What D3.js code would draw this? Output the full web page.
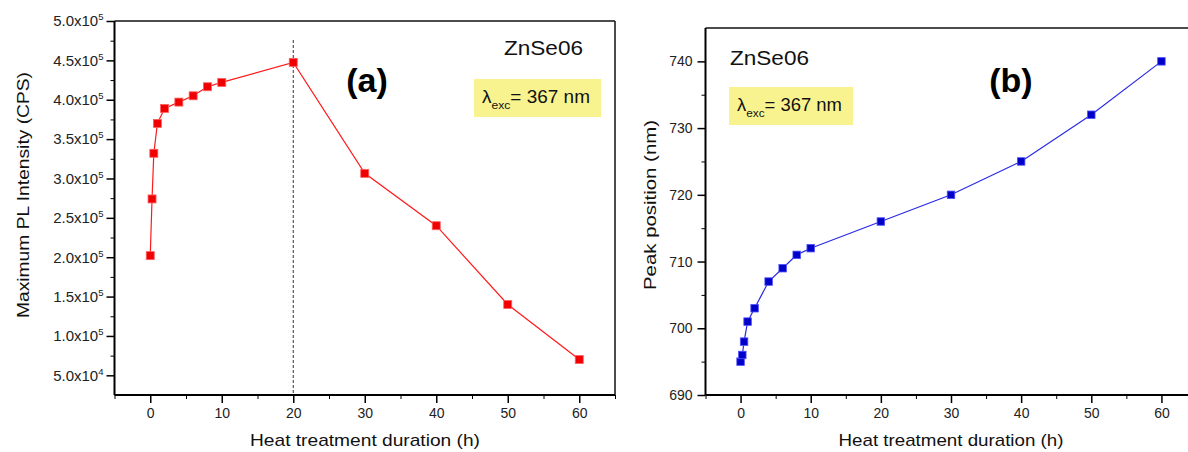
<!DOCTYPE html>
<html>
<head>
<meta charset="utf-8">
<script src="https://cdn.jsdelivr.net/npm/d3@7"></script>
<style>
  html, body { margin: 0; padding: 0; background: #fff; }
  svg { display: block; font-family: "Liberation Sans", Arial, sans-serif; }
</style>
</head>
<body>
<svg id="chart" width="1188" height="452"></svg>
<script>
// ---- data ----
const durations = [0, 0.25, 0.5, 1, 2, 4, 6, 8, 10, 20, 30, 40, 50, 60];
const maxIntensity = [2.02e5, 2.74e5, 3.32e5, 3.70e5, 3.89e5, 3.97e5, 4.05e5, 4.165e5, 4.22e5, 4.475e5, 3.065e5, 2.40e5, 1.40e5, 7.0e4];
const peakPosition = [695, 696, 698, 701, 703, 707, 709, 711, 712, 716, 720, 725, 732, 740];
const xTicks = [0, 10, 20, 30, 40, 50, 60];
const xMinorTicks = [-5, 5, 15, 25, 35, 45, 55, 65];
const yTicksA = [5e4, 1e5, 1.5e5, 2e5, 2.5e5, 3e5, 3.5e5, 4e5, 4.5e5, 5e5];
const yMinorTicksA = [7.5e4, 1.25e5, 1.75e5, 2.25e5, 2.75e5, 3.25e5, 3.75e5, 4.25e5, 4.75e5];
const yTicksB = [690, 700, 710, 720, 730, 740];
const yMinorTicksB = [695, 705, 715, 725, 735];
const markerLine = 20;

const svg = d3.select("#chart");
const FONT = "'Liberation Sans', Arial, sans-serif";

function drawPanel(cfg) {
  const g = svg.append("g");
  const x = d3.scaleLinear().domain([-5, 65]).range([cfg.left, cfg.right]);
  const y = d3.scaleLinear().domain(cfg.yDomain).range([cfg.bottom, cfg.top]);

  // frame top/right
  g.append("line").attr("x1", cfg.left).attr("x2", cfg.frameRight).attr("y1", cfg.top).attr("y2", cfg.top)
    .attr("stroke", "#111").attr("stroke-width", 1.5);
  if (cfg.drawRight) {
    g.append("line").attr("x1", cfg.frameRight).attr("x2", cfg.frameRight).attr("y1", cfg.top).attr("y2", cfg.bottom)
      .attr("stroke", "#111").attr("stroke-width", 1.5);
  }

  // x axis
  const xAx = g.append("g").attr("transform", `translate(0,${cfg.bottom})`)
    .call(d3.axisBottom(x).tickValues(xTicks).tickSize(8).tickPadding(5).tickFormat(d3.format("d")));
  g.append("g").attr("transform", `translate(0,${cfg.bottom})`)
    .call(d3.axisBottom(x).tickValues(xMinorTicks).tickSize(4).tickFormat(""))
    .call(s => s.select(".domain").remove());
  xAx.select(".domain").attr("stroke-width", 2).attr("d", `M${cfg.left},0H${cfg.frameRight}`);
  xAx.selectAll(".tick line").attr("stroke-width", 1.5);
  xAx.selectAll(".tick text").attr("font-size", 14).attr("font-family", FONT).attr("fill", "#222");

  // y axis
  const yAx = g.append("g").attr("transform", `translate(${cfg.left},0)`)
    .call(d3.axisLeft(y).tickValues(cfg.yTicks).tickSize(8).tickPadding(cfg.yPad).tickFormat(cfg.yFormat));
  g.append("g").attr("transform", `translate(${cfg.left},0)`)
    .call(d3.axisLeft(y).tickValues(cfg.yMinor).tickSize(4).tickFormat(""))
    .call(s => s.select(".domain").remove());
  yAx.select(".domain").attr("stroke-width", 2).attr("d", `M0,${cfg.top}V${cfg.bottom}`);
  yAx.selectAll(".tick line").attr("stroke-width", 1.5);
  yAx.selectAll(".tick text").attr("font-size", cfg.yFont).attr("font-family", FONT).attr("fill", "#222");
  if (cfg.sci) {
    yAx.selectAll(".tick text").each(function(d) {
      const e = Math.floor(Math.log10(d));
      const m = (d / Math.pow(10, e)).toFixed(1);
      const t = d3.select(this);
      t.text(null);
      t.append("tspan").text(m + "x10");
      t.append("tspan").attr("dy", -6).attr("font-size", 9.5).text(e);
    });
  }

  // vertical dashed line
  if (cfg.vline) {
    g.append("line").attr("x1", x(markerLine)).attr("x2", x(markerLine))
      .attr("y1", cfg.vlineTop).attr("y2", cfg.bottom)
      .attr("stroke", "#333").attr("stroke-width", 1).attr("stroke-dasharray", "3,2");
  }

  // series line
  const pts = durations.map((d, i) => [d, cfg.values[i]]);
  g.append("path").datum(pts)
    .attr("fill", "none").attr("stroke", cfg.lineColor).attr("stroke-width", 1.2)
    .attr("d", d3.line().x(d => x(d[0])).y(d => y(d[1])));
  g.selectAll("rect.mk").data(pts).enter().append("rect").attr("class", "mk")
    .attr("x", d => x(d[0]) - cfg.ms / 2).attr("y", d => y(d[1]) - cfg.ms / 2)
    .attr("width", cfg.ms).attr("height", cfg.ms)
    .attr("fill", cfg.markerColor).attr("stroke", cfg.markerStroke).attr("stroke-width", 0.8);

  // axis titles
  g.append("text").attr("x", cfg.xTitleX).attr("y", 446).attr("text-anchor", "middle")
    .attr("font-size", 17).attr("font-family", FONT).attr("fill", "#111")
    .attr("textLength", cfg.xTitleLen).attr("lengthAdjust", "spacingAndGlyphs")
    .text("Heat treatment duration (h)");
  g.append("text").attr("transform", `translate(${cfg.yTitleX},${cfg.yTitleY}) rotate(-90)`)
    .attr("text-anchor", "middle").attr("font-size", 17).attr("font-family", FONT).attr("fill", "#111")
    .attr("textLength", cfg.yTitleLen).attr("lengthAdjust", "spacingAndGlyphs")
    .text(cfg.yTitle);

  // panel label
  g.append("text").attr("x", cfg.labelX).attr("y", 92).attr("text-anchor", "middle")
    .attr("font-size", 34).attr("font-weight", "bold").attr("font-family", FONT).attr("fill", "#000")
    .text(cfg.label);

  // sample name
  g.append("text").attr("x", cfg.nameX).attr("y", cfg.nameY).attr("text-anchor", "start")
    .attr("font-size", 21).attr("font-family", FONT).attr("fill", "#111")
    .attr("textLength", 79).attr("lengthAdjust", "spacingAndGlyphs")
    .text("ZnSe06");

  // excitation box
  g.append("rect").attr("x", cfg.boxX).attr("y", cfg.boxY).attr("width", cfg.boxW).attr("height", 38)
    .attr("fill", "#f8f38f");
  const t = g.append("text").attr("x", cfg.boxX + 8).attr("y", cfg.boxY + 24)
    .attr("font-size", 18).attr("font-family", FONT).attr("fill", "#111")
    .attr("textLength", cfg.boxTextLen).attr("lengthAdjust", "spacingAndGlyphs");
  t.append("tspan").text("λ");
  t.append("tspan").attr("font-size", 11.5).attr("dy", 6).text("exc");
  t.append("tspan").attr("dy", -6).text("= 367 nm");
}

drawPanel({
  left: 114.5, right: 615, frameRight: 615, drawRight: true, top: 21, bottom: 395,
  yDomain: [2.5e4, 5e5], yTicks: yTicksA, yMinor: yMinorTicksA, sci: true, yPad: 3, yFont: 15,
  yFormat: d => d,
  values: maxIntensity, lineColor: "#ff1a1a", markerColor: "#f00000", markerStroke: "#ff6060", ms: 8,
  vline: true, vlineTop: 40,
  xTitleX: 365, xTitleLen: 230,
  yTitleX: 29, yTitleY: 195, yTitleLen: 246, yTitle: "Maximum PL Intensity (CPS)",
  label: "(a)", labelX: 367,
  nameX: 504, nameY: 55,
  boxX: 474, boxY: 79, boxW: 127, boxTextLen: 108
});

drawPanel({
  left: 705.5, right: 1196.5, frameRight: 1188, drawRight: false, top: 28, bottom: 395,
  yDomain: [690, 745], yTicks: yTicksB, yMinor: yMinorTicksB, sci: false, yPad: 5, yFont: 14,
  yFormat: d3.format("d"),
  values: peakPosition, lineColor: "#2a2ae6", markerColor: "#0000c8", markerStroke: "#5050ff", ms: 7.5,
  vline: false,
  xTitleX: 951, xTitleLen: 225,
  yTitleX: 656, yTitleY: 205, yTitleLen: 170, yTitle: "Peak position (nm)",
  label: "(b)", labelX: 1011,
  nameX: 730, nameY: 65,
  boxX: 729, boxY: 87, boxW: 124, boxTextLen: 105
});
</script>
</body>
</html>
